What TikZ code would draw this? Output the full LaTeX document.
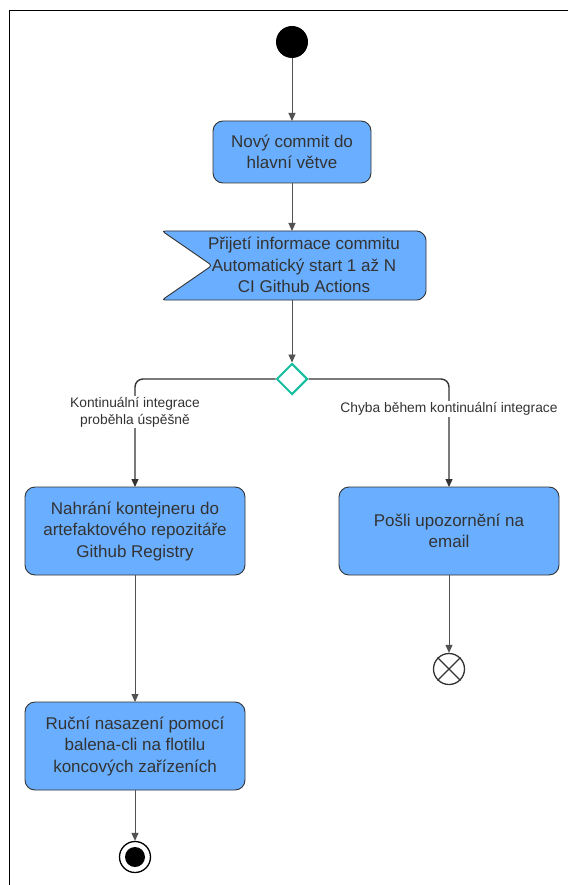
\documentclass[tikz,border=0pt]{standalone}
\usepackage{fontspec}
\setmainfont{Liberation Sans}
\usetikzlibrary{shapes.geometric,arrows.meta}
\definecolor{boxfill}{RGB}{106,174,255}
\definecolor{boxline}{RGB}{51,51,51}
\definecolor{txt}{RGB}{51,51,51}
\definecolor{teal}{RGB}{22,190,160}
\tikzset{
  shapeline/.style={draw=boxline,line width=0.9pt,fill=boxfill,rounded corners=10pt},
  acttext/.style={text=txt,font=\fontsize{17}{21.5}\selectfont,align=center},
  flow/.style={draw=boxline!85,line width=0.9pt,-{Triangle[length=8pt,width=7pt]}},
  branch/.style={draw=boxline,line width=1.4pt,rounded corners=8pt,-{Triangle[length=8pt,width=7pt]}},
  elabel/.style={fill=white,text=txt,font=\fontsize{13.8}{17}\selectfont,align=center,inner sep=1pt}
}
\begin{document}
\begin{tikzpicture}[x=1pt,y=-1pt]
\useasboundingbox (0,0) rectangle (568,885);
\fill[white] (0,0) rectangle (568,885);
% frame
\draw[line width=1pt,black] (568,10.5) -- (9.5,10.5) -- (9.5,885);

% start
\node[circle,fill=black,minimum size=32pt,inner sep=0pt] (start) at (292,42) {};
% box1
\draw[shapeline] (213,121) rectangle (371,183);
\node[acttext] (b1) at (292,152) {Nový commit do\\hlavní větve};
\coordinate (b1t) at (292,121);
\coordinate (b1b) at (292,183);
% signal
\draw[shapeline,rounded corners=3pt]
  (162,231) -- (420,231) -- (426,237) -- (426,294) -- (420,300) -- (162,300) -- (212,265.5) -- cycle;
\node[acttext] (sig) at (304,265) {Přijetí informace commitu\\Automatický start 1 až N\\CI Github Actions};
\coordinate (sigt) at (292,231);
\coordinate (sigb) at (292,300);
% diamond
\node[diamond,draw=teal,line width=2pt,fill=white,minimum size=31pt,inner sep=0pt] (dec) at (292,379) {};
% box3
\draw[shapeline] (25,487) rectangle (245,575);
\node[acttext] (b3) at (135,531) {Nahrání kontejneru do\\artefaktového repozitáře\\Github Registry};
\coordinate (b3t) at (135,487);
\coordinate (b3b) at (135,575);
% box4
\draw[shapeline] (339,487) rectangle (559,575);
\node[acttext] (b4) at (449,531) {Pošli upozornění na\\email};
\coordinate (b4t) at (449,487);
\coordinate (b4b) at (449,575);
% box5
\draw[shapeline] (25,702) rectangle (245,790);
\node[acttext] (b5) at (135,746) {Ruční nasazení pomocí\\balena-cli na flotilu\\koncových zařízeních};
\coordinate (b5t) at (135,702);
\coordinate (b5b) at (135,790);
% flow final
\node[circle,draw=boxline,line width=1.3pt,fill=white,minimum size=31pt,inner sep=0pt] (ff) at (449,669) {};
\draw[boxline,line width=1.3pt] (ff.north west) -- (ff.south east) (ff.north east) -- (ff.south west);
% final
\node[circle,draw=black,line width=1.3pt,fill=white,minimum size=31pt,inner sep=0pt] (fin) at (135,857) {};
\node[circle,fill=black,minimum size=20pt,inner sep=0pt] (fin2) at (fin) {};

% connectors
\draw[flow] (start) -- (b1t);
\draw[flow] (b1b) -- (sigt);
\draw[flow] (sigb) -- (dec.north);
\draw[branch] (dec.west) -| (b3t);
\draw[branch] (dec.east) -| (b4t);
\node[elabel] (l1) at (135,412) {Kontinuální integrace\\proběhla úspěšně};
\node[elabel] (l2) at (449,409) {Chyba během kontinuální integrace};
\draw[flow] (b4b) -- (ff.north);
\draw[flow] (b3b) -- (b5t);
\draw[flow] (b5b) -- (fin.north);
\end{tikzpicture}
\end{document}
